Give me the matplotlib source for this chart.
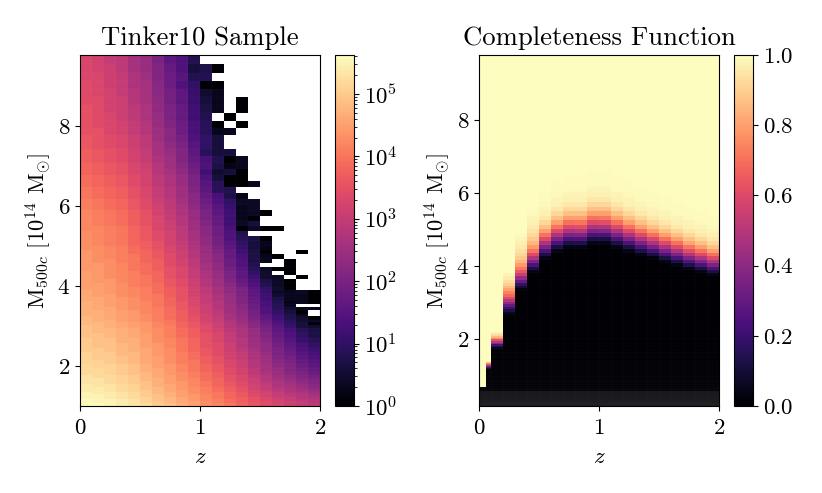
import matplotlib
matplotlib.use('Agg')
import matplotlib.pyplot as plt
from matplotlib.colors import LogNorm
import numpy as np

plt.rcParams['font.family'] = 'serif'
plt.rcParams['font.serif'] = ['cmr10']
plt.rcParams['mathtext.fontset'] = 'cm'
plt.rcParams['axes.formatter.use_mathtext'] = True
plt.rcParams['axes.unicode_minus'] = False

_ = np.nan

# Tinker10 sample: log10 of the counts, heaviest mass bin first, blank past the row end
z_edges_sample = [0.0, 0.1, 0.2, 0.3, 0.4, 0.5, 0.6, 0.7, 0.8, 0.9, 1.0,
                  1.1, 1.2, 1.3, 1.4, 1.5, 1.6, 1.7, 1.8, 1.9, 2.0]
mass_edges_sample = [9.77, 9.55, 9.33, 9.12, 8.91, 8.71, 8.51, 8.32, 8.13, 7.94, 7.76,
                     7.59, 7.41, 7.24, 7.08, 6.92, 6.76, 6.61, 6.46, 6.31, 6.17, 6.03,
                     5.89, 5.75, 5.62, 5.50, 5.37, 5.25, 5.13, 5.01, 4.90, 4.79, 4.68,
                     4.57, 4.47, 4.37, 4.27, 4.17, 4.07, 3.98, 3.89, 3.80, 3.72, 3.63,
                     3.55, 3.47, 3.39, 3.31, 3.24, 3.16, 3.09, 3.02, 2.95, 2.82, 2.69, 2.57,
                     2.45, 2.34, 2.24, 2.14, 2.04, 1.95, 1.86, 1.78, 1.70, 1.62, 1.55,
                     1.48, 1.41, 1.35, 1.29, 1.23, 1.17, 1.12, 1.07, 1.0]
log_counts = [
    [3.3, 3.2, 3.0, 2.9, 2.6, 2.4, 2.0, 1.6, 1.4, .8],
    [3.3, 3.2, 3.1, 2.9, 2.6, 2.4, 2.1, 1.7, 1.4, .6, .7, 0],
    [3.3, 3.3, 3.1, 3.0, 2.7, 2.5, 2.1, 1.8, 1.5, .8, .8],
    [3.4, 3.3, 3.1, 3.0, 2.7, 2.6, 2.2, 1.8, 1.4, 1.0, 0, 0],
    [3.4, 3.3, 3.2, 3.0, 2.8, 2.6, 2.2, 1.9, 1.6, 1.1, .5, .3],
    [3.4, 3.4, 3.2, 3.1, 2.8, 2.6, 2.3, 1.9, 1.6, 1.1, .6, .3, _, 0],
    [3.5, 3.4, 3.2, 3.1, 2.9, 2.7, 2.3, 2.0, 1.7, 1.2, .7, .3, _, 0],
    [3.5, 3.4, 3.3, 3.1, 2.9, 2.7, 2.4, 2.0, 1.7, 1.2, .8, _, 0],
    [3.5, 3.4, 3.3, 3.2, 3.0, 2.8, 2.4, 2.1, 1.8, 1.3, .9, 0, _, 0],
    [3.5, 3.5, 3.3, 3.2, 3.0, 2.8, 2.5, 2.2, 1.8, 1.3, .9, .3, .3],
    [3.6, 3.5, 3.4, 3.3, 3.1, 2.9, 2.5, 2.2, 1.9, 1.4, 1.0, .6],
    [3.6, 3.5, 3.4, 3.3, 3.1, 2.9, 2.6, 2.3, 2.0, 1.5, 1.0, .6],
    [3.7, 3.6, 3.5, 3.4, 3.2, 3.0, 2.6, 2.4, 2.1, 1.6, .9, .6, .6],
    [3.7, 3.6, 3.5, 3.4, 3.2, 3.0, 2.7, 2.5, 2.1, 1.7, 1.3, .8, 0, .3],
    [3.8, 3.7, 3.6, 3.5, 3.3, 3.1, 2.8, 2.5, 2.2, 1.8, 1.4, .7, .2, .3],
    [3.8, 3.7, 3.6, 3.5, 3.3, 3.2, 2.8, 2.6, 2.3, 1.9, 1.2, .5, .6, 0],
    [3.9, 3.8, 3.7, 3.6, 3.4, 3.2, 2.9, 2.7, 2.4, 2.0, 1.4, .6, 0, 0],
    [3.9, 3.8, 3.7, 3.6, 3.4, 3.2, 2.9, 2.7, 2.4, 2.0, 1.5, .9, 0, 0, .3],
    [4.0, 3.9, 3.8, 3.7, 3.5, 3.3, 3.0, 2.8, 2.5, 2.1, 1.6, .9, .8],
    [4.0, 3.9, 3.8, 3.7, 3.5, 3.3, 3.0, 2.8, 2.5, 2.2, 1.7, 1.3, .7, .2],
    [4.1, 4.0, 3.9, 3.8, 3.6, 3.4, 3.1, 2.9, 2.6, 2.2, 1.8, 1.4, 1.0, .4, .4],
    [4.1, 4.0, 3.9, 3.8, 3.6, 3.4, 3.2, 2.9, 2.7, 2.3, 1.9, 1.5, 1.1, .3, .4],
    [4.2, 4.1, 4.0, 3.9, 3.7, 3.5, 3.2, 3.0, 2.7, 2.4, 2.0, 1.6, 1.2, .3, .4, 0],
    [4.2, 4.1, 4.0, 3.9, 3.7, 3.5, 3.3, 3.0, 2.8, 2.4, 2.0, 1.7, 1.2, .3, 0],
    [4.2, 4.1, 4.0, 3.9, 3.7, 3.5, 3.3, 3.1, 2.8, 2.5, 2.1, 1.7, 1.2, .4, .6],
    [4.2, 4.2, 4.1, 4.0, 3.8, 3.6, 3.3, 3.1, 2.9, 2.5, 2.2, 1.8, 1.3, 0, .4, 0, 0],
    [4.3, 4.2, 4.1, 4.0, 3.8, 3.6, 3.4, 3.2, 2.9, 2.6, 2.2, 1.8, 1.4, .8],
    [4.3, 4.2, 4.1, 4.0, 3.8, 3.6, 3.4, 3.2, 2.9, 2.6, 2.3, 1.9, 1.4, .9, .7, 0],
    [4.3, 4.2, 4.1, 4.0, 3.8, 3.7, 3.5, 3.2, 3.0, 2.7, 2.3, 1.9, 1.5, 1.0, .6, .3],
    [4.3, 4.3, 4.2, 4.1, 3.9, 3.7, 3.5, 3.3, 3.0, 2.7, 2.4, 2.0, 1.6, 1.1, .6, .2],
    [4.4, 4.3, 4.2, 4.1, 3.9, 3.8, 3.6, 3.3, 3.1, 2.8, 2.4, 2.1, 1.7, 1.2, .7, 0, _, _, 0],
    [4.4, 4.3, 4.2, 4.1, 4.0, 3.8, 3.6, 3.4, 3.1, 2.8, 2.5, 2.2, 1.7, 1.3, .7, .3, 0],
    [4.4, 4.3, 4.3, 4.1, 4.0, 3.8, 3.7, 3.4, 3.2, 2.9, 2.5, 2.2, 1.8, 1.4, .7, .3, _, 0],
    [4.4, 4.4, 4.3, 4.2, 4.0, 3.9, 3.7, 3.4, 3.2, 2.9, 2.6, 2.3, 1.8, 1.4, .8, _, _, 0],
    [4.4, 4.4, 4.3, 4.2, 4.0, 3.9, 3.7, 3.5, 3.3, 3.0, 2.6, 2.3, 1.9, 1.5, .9, .4, 0, 0],
    [4.5, 4.4, 4.3, 4.2, 4.1, 3.9, 3.8, 3.5, 3.3, 3.0, 2.7, 2.4, 2.0, 1.6, 1.0, .5, _, 0],
    [4.5, 4.4, 4.3, 4.2, 4.1, 4.0, 3.8, 3.5, 3.3, 3.0, 2.7, 2.4, 2.0, 1.6, 1.2, .5, .4, _, 0],
    [4.5, 4.4, 4.4, 4.2, 4.1, 4.0, 3.8, 3.6, 3.4, 3.1, 2.8, 2.5, 2.1, 1.7, 1.3, .7, .4, 0],
    [4.5, 4.5, 4.4, 4.3, 4.1, 4.0, 3.9, 3.6, 3.4, 3.1, 2.8, 2.5, 2.2, 1.8, 1.4, .8, .4, 0],
    [4.5, 4.5, 4.4, 4.3, 4.2, 4.1, 3.9, 3.7, 3.5, 3.2, 2.9, 2.6, 2.3, 2.0, 1.5, 1.0, .5, 0],
    [4.6, 4.5, 4.4, 4.3, 4.2, 4.1, 3.9, 3.7, 3.5, 3.2, 2.9, 2.6, 2.3, 2.0, 1.6, 1.1, .4, .3, .4, 0],
    [4.6, 4.5, 4.5, 4.3, 4.2, 4.1, 4.0, 3.7, 3.5, 3.2, 3.0, 2.7, 2.4, 2.0, 1.6, 1.2, .5, .3, .3, 0],
    [4.6, 4.6, 4.5, 4.4, 4.3, 4.1, 4.0, 3.8, 3.5, 3.3, 3.0, 2.7, 2.4, 2.1, 1.7, 1.2, .7, .3, .3, 0],
    [4.7, 4.6, 4.5, 4.4, 4.3, 4.2, 4.0, 3.8, 3.6, 3.3, 3.0, 2.8, 2.4, 2.1, 1.7, 1.3, .8, .2, .3, 0],
    [4.7, 4.6, 4.5, 4.4, 4.3, 4.2, 4.0, 3.8, 3.6, 3.3, 3.1, 2.8, 2.5, 2.2, 1.8, 1.3, .9, .3],
    [4.7, 4.6, 4.6, 4.4, 4.3, 4.2, 4.1, 3.9, 3.6, 3.4, 3.1, 2.8, 2.5, 2.2, 1.8, 1.4, .9, .5, .3, .3],
    [4.7, 4.7, 4.6, 4.5, 4.4, 4.2, 4.1, 3.9, 3.7, 3.4, 3.1, 2.9, 2.5, 2.3, 1.9, 1.4, 1.0, .6, 0],
    [4.7, 4.7, 4.6, 4.5, 4.4, 4.3, 4.1, 3.9, 3.7, 3.4, 3.2, 2.9, 2.6, 2.3, 1.9, 1.5, 1.1, .7, .3],
    [4.8, 4.7, 4.6, 4.5, 4.4, 4.3, 4.1, 3.9, 3.7, 3.5, 3.2, 3.0, 2.6, 2.4, 2.0, 1.6, 1.2, .8, .5, 0],
    [4.8, 4.7, 4.7, 4.5, 4.4, 4.3, 4.1, 4.0, 3.7, 3.5, 3.2, 3.0, 2.7, 2.4, 2.1, 1.7, 1.3, .9, .5, .4],
    [4.8, 4.8, 4.7, 4.6, 4.5, 4.4, 4.2, 4.0, 3.8, 3.6, 3.3, 3.1, 2.8, 2.5, 2.2, 1.8, 1.4, 1.0, .6, 0],
    [4.9, 4.8, 4.7, 4.6, 4.5, 4.4, 4.2, 4.1, 3.8, 3.6, 3.4, 3.1, 2.8, 2.6, 2.2, 1.9, 1.5, 1.1, .6, .5],
    [4.9, 4.8, 4.8, 4.7, 4.6, 4.4, 4.3, 4.1, 3.9, 3.7, 3.4, 3.2, 2.9, 2.7, 2.4, 2.0, 1.6, 1.3, .9, .7],
    [4.9, 4.9, 4.8, 4.7, 4.6, 4.5, 4.3, 4.1, 3.9, 3.7, 3.5, 3.3, 3.0, 2.7, 2.4, 2.1, 1.7, 1.4, 1.0, .7],
    [5.0, 4.9, 4.9, 4.7, 4.7, 4.5, 4.3, 4.2, 4.0, 3.8, 3.5, 3.3, 3.0, 2.8, 2.5, 2.2, 1.8, 1.5, 1.1, .9],
    [5.0, 4.9, 4.9, 4.8, 4.7, 4.5, 4.4, 4.2, 4.0, 3.8, 3.5, 3.4, 3.1, 2.8, 2.5, 2.3, 1.9, 1.6, 1.3, 1.0],
    [5.0, 5.0, 4.9, 4.8, 4.7, 4.6, 4.4, 4.3, 4.0, 3.8, 3.6, 3.4, 3.1, 2.9, 2.6, 2.3, 2.0, 1.7, 1.4, 1.2],
    [5.1, 5.0, 5.0, 4.8, 4.8, 4.6, 4.4, 4.3, 4.1, 3.9, 3.6, 3.4, 3.2, 3.0, 2.7, 2.4, 2.0, 1.8, 1.5, 1.3],
    [5.1, 5.0, 5.0, 4.9, 4.8, 4.6, 4.5, 4.3, 4.1, 3.9, 3.7, 3.5, 3.2, 3.0, 2.7, 2.5, 2.1, 1.9, 1.6, 1.4],
    [5.1, 5.1, 5.0, 4.9, 4.8, 4.6, 4.5, 4.3, 4.1, 4.0, 3.7, 3.5, 3.3, 3.1, 2.8, 2.5, 2.2, 2.0, 1.7, 1.5],
    [5.2, 5.1, 5.1, 5.0, 4.9, 4.7, 4.5, 4.4, 4.2, 4.0, 3.8, 3.6, 3.3, 3.1, 2.8, 2.6, 2.3, 2.1, 1.8, 1.6],
    [5.2, 5.2, 5.1, 5.0, 4.9, 4.7, 4.6, 4.4, 4.2, 4.0, 3.8, 3.6, 3.4, 3.2, 2.9, 2.6, 2.4, 2.1, 1.9, 1.7],
    [5.2, 5.2, 5.1, 5.0, 4.9, 4.8, 4.6, 4.4, 4.3, 4.1, 3.9, 3.7, 3.4, 3.2, 2.9, 2.7, 2.4, 2.2, 2.0, 1.8],
    [5.3, 5.2, 5.2, 5.1, 5.0, 4.8, 4.6, 4.5, 4.3, 4.1, 3.9, 3.7, 3.5, 3.3, 3.0, 2.8, 2.5, 2.3, 2.1, 1.9],
    [5.3, 5.3, 5.2, 5.1, 5.0, 4.8, 4.7, 4.5, 4.3, 4.2, 3.9, 3.8, 3.5, 3.3, 3.1, 2.8, 2.6, 2.4, 2.2, 2.0],
    [5.3, 5.3, 5.2, 5.1, 5.0, 4.9, 4.7, 4.5, 4.4, 4.2, 4.0, 3.8, 3.6, 3.4, 3.1, 2.9, 2.7, 2.5, 2.3, 2.1],
    [5.4, 5.3, 5.3, 5.2, 5.1, 4.9, 4.7, 4.6, 4.4, 4.2, 4.0, 3.8, 3.6, 3.4, 3.2, 3.0, 2.7, 2.6, 2.4, 2.2],
    [5.4, 5.4, 5.3, 5.2, 5.1, 4.9, 4.8, 4.6, 4.4, 4.3, 4.1, 3.9, 3.7, 3.5, 3.2, 3.0, 2.8, 2.7, 2.5, 2.3],
    [5.4, 5.4, 5.3, 5.2, 5.1, 5.0, 4.8, 4.6, 4.5, 4.3, 4.1, 3.9, 3.7, 3.5, 3.3, 3.1, 2.9, 2.7, 2.6, 2.4],
    [5.5, 5.4, 5.4, 5.3, 5.2, 5.0, 4.8, 4.7, 4.5, 4.3, 4.1, 4.0, 3.8, 3.6, 3.3, 3.2, 3.0, 2.8, 2.7, 2.5],
    [5.5, 5.5, 5.4, 5.3, 5.2, 5.0, 4.9, 4.7, 4.5, 4.4, 4.2, 4.0, 3.8, 3.6, 3.4, 3.2, 3.0, 2.9, 2.8, 2.6],
    [5.5, 5.5, 5.4, 5.3, 5.2, 5.1, 4.9, 4.8, 4.6, 4.4, 4.2, 4.0, 3.8, 3.7, 3.5, 3.3, 3.1, 3.0, 2.8, 2.7],
    [5.6, 5.5, 5.5, 5.4, 5.3, 5.1, 4.9, 4.8, 4.6, 4.4, 4.2, 4.1, 3.9, 3.7, 3.5, 3.3, 3.2, 3.0, 2.9, 2.8],
    [5.6, 5.5, 5.5, 5.4, 5.3, 5.1, 5.0, 4.8, 4.6, 4.5, 4.3, 4.1, 3.9, 3.7, 3.5, 3.4, 3.2, 3.1, 3.0, 2.8],
    [5.6, 5.6, 5.5, 5.4, 5.3, 5.2, 5.0, 4.9, 4.7, 4.5, 4.3, 4.2, 4.0, 3.8, 3.6, 3.4, 3.3, 3.1, 3.0, 2.9],
]

# Completeness: per z column, the 0.01 dex mass bin (counted down from the top)
# where it leaves 1, then its values on the way to 0
z_edges_comp = [0.0, 0.06, 0.1, 0.2, 0.3, 0.4, 0.5, 0.6, 0.7, 0.8, 0.9, 1.0,
                1.1, 1.2, 1.3, 1.4, 1.5, 1.6, 1.7, 1.8, 1.9, 2.0]
comp_first_bin = [114, 84, 65, 41, 30, 24, 21, 19, 18, 18, 17, 17, 18, 19, 20, 21, 22, 23, 24, 25, 26]
comp_steps = [
    [],
    [.97, .88, .75, .62, .5, .35, .22, .1, .03],
    [.97, .92, .85, .75, .62, .5, .38, .22, .12, .05, .01],
    [.98, .96, .93, .9, .85, .8, .74, .68, .6, .5, .4, .3, .2, .12, .06, .02],
    [.99, .98, .97, .96, .94, .92, .89, .85, .79, .72, .64, .55, .42, .3, .18, .09, .03],
    [.995, .99, .98, .97, .96, .94, .92, .89, .85, .79, .71, .6, .49, .36, .24, .12, .04],
    [.995, .995, .99, .98, .97, .95, .92, .87, .8, .7, .6, .48, .36, .24, .12, .04],
    [.995, .995, .99, .98, .97, .95, .92, .87, .8, .71, .6, .48, .36, .24, .12, .04],
    [.995, .995, .99, .98, .97, .95, .92, .87, .8, .7, .6, .48, .36, .24, .12, .04],
    [.995, .995, .99, .98, .97, .95, .92, .87, .8, .71, .61, .5, .37, .25, .13, .04],
    [.995, .995, .99, .98, .97, .95, .92, .87, .8, .7, .6, .48, .36, .24, .12, .04],
    [.995, .995, .99, .98, .97, .95, .92, .87, .8, .71, .61, .49, .37, .24, .12, .04],
    [.995, .995, .99, .98, .97, .95, .92, .87, .8, .7, .6, .48, .36, .24, .12, .04],
    [.995, .995, .99, .98, .97, .95, .92, .87, .8, .7, .6, .48, .36, .24, .12, .04],
    [.995, .995, .99, .98, .97, .95, .92, .87, .8, .7, .6, .48, .36, .24, .12, .04],
    [.995, .995, .99, .98, .97, .95, .92, .87, .8, .7, .59, .47, .35, .23, .11, .03],
    [.995, .995, .99, .98, .97, .95, .92, .87, .8, .7, .6, .48, .36, .24, .12, .04],
    [.995, .995, .99, .98, .97, .95, .92, .87, .8, .7, .6, .48, .36, .24, .12, .04],
    [.995, .995, .99, .98, .97, .95, .92, .87, .81, .71, .61, .49, .37, .25, .13, .04],
    [.995, .995, .99, .98, .97, .95, .92, .87, .8, .7, .6, .48, .36, .24, .12, .04],
    [.995, .995, .99, .98, .97, .95, .92, .87, .8, .7, .6, .48, .36, .24, .12, .04],
]

# mass bins are 0.01 dex wide
n_comp_bins = 175
mass_edges_comp = 10 ** (0.99 - 0.01 * np.arange(n_comp_bins + 1))

sample_grid = np.full((len(log_counts), len(z_edges_sample) - 1), np.nan)
for i, row in enumerate(log_counts):
    sample_grid[i, :len(row)] = row

comp_grid = np.zeros((n_comp_bins, len(z_edges_comp) - 1))
for j, (first, steps) in enumerate(zip(comp_first_bin, comp_steps)):
    comp_grid[:first, j] = 1.0
    comp_grid[first:first + len(steps), j] = steps


def to_fig(x0, y0, x1, y1):
    # pixel box to figure fractions
    return [x0 / 822, 1 - y1 / 493, (x1 - x0) / 822, (y1 - y0) / 493]


fig = plt.figure(figsize=(8.22, 4.93), dpi=100)
ax1 = fig.add_axes(to_fig(80, 55, 320, 406))
cax1 = fig.add_axes(to_fig(335, 55, 354, 406))
ax2 = fig.add_axes(to_fig(479, 55, 719, 406))
cax2 = fig.add_axes(to_fig(734, 55, 753, 406))

im1 = ax1.pcolormesh(z_edges_sample, mass_edges_sample, 10 ** sample_grid, cmap='magma',
                     norm=LogNorm(vmin=1, vmax=4.2e5), antialiased=True,
                     edgecolors=(1, 1, 1, 0.035), linewidth=0.3)
ax1.set_ylim(1.0, 9.77)
ax1.set_title('Tinker10 Sample', fontsize=19.2, pad=7)

im2 = ax2.pcolormesh(z_edges_comp, mass_edges_comp, comp_grid, cmap='magma',
                     vmin=0, vmax=1, antialiased=True,
                     edgecolors=(1, 1, 1, 0.035), linewidth=0.3)
# the lightest mass bins read as a dark grey band
ax2.axhspan(0.175, 0.58, color='white', alpha=0.07, linewidth=0)
ax2.set_ylim(0.175, 9.77)
ax2.set_title('Completeness Function', fontsize=19.2, pad=7)

for ax in (ax1, ax2):
    ax.set_xlim(0, 2)
    ax.set_xticks([0, 1, 2])
    ax.set_yticks([2, 4, 6, 8])
    ax.tick_params(labelsize=16.5)
    ax.tick_params(axis='x', pad=5.5)
    ax.set_xlabel(r'$z$', fontsize=16.5, labelpad=6.5)
    ax.set_ylabel(r'M$_{500c}$ [$10^{14}$ M$_{\odot}$]', fontsize=16.2, labelpad=3)

cb1 = fig.colorbar(im1, cax=cax1)
cb2 = fig.colorbar(im2, cax=cax2)
cb2.set_ticks([0, 0.2, 0.4, 0.6, 0.8, 1.0])
for cb in (cb1, cb2):
    cb.ax.tick_params(labelsize=16.5)

fig.savefig('out.png', dpi=100)
